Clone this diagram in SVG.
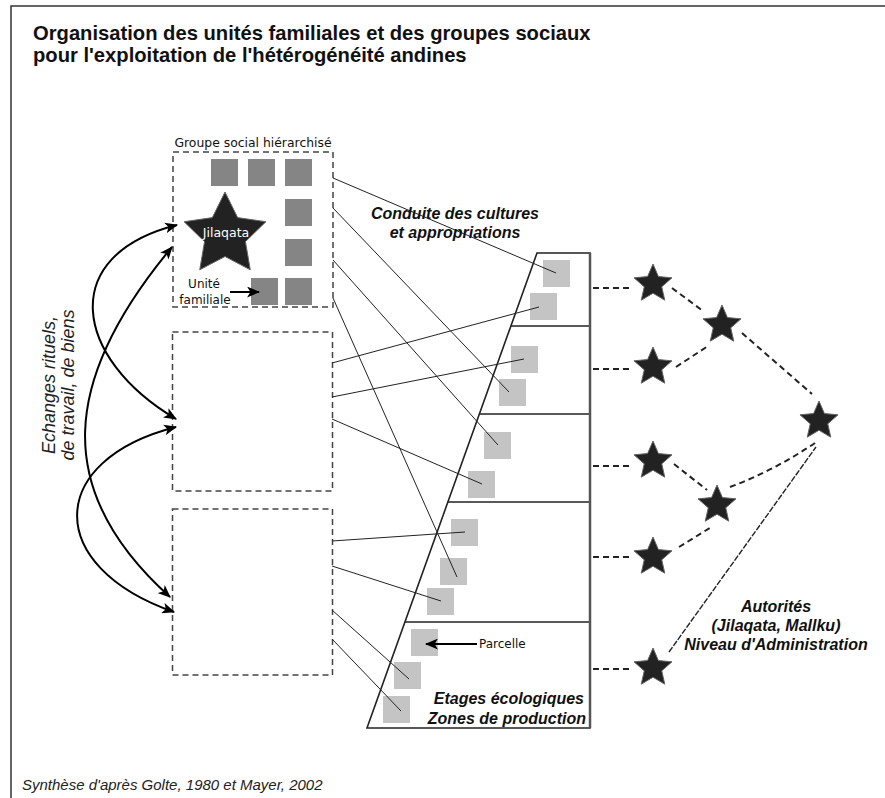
<svg xmlns="http://www.w3.org/2000/svg" width="885" height="798" viewBox="0 0 885 798">
<style>
.title{font-family:"Liberation Sans",Arial,sans-serif;font-weight:bold;font-size:20.2px;fill:#111}
.bi{font-family:"Liberation Sans",Arial,sans-serif;font-weight:bold;font-style:italic;font-size:16px;fill:#111}
.it{font-family:"Liberation Sans",Arial,sans-serif;font-style:italic;fill:#222}
.hand{font-family:"DejaVu Sans",sans-serif;font-size:12px;fill:#111}
.box{fill:none;stroke:#444;stroke-width:1.5;stroke-dasharray:6 4}
.dsq{fill:#858585}
.lsq{fill:#c4c4c4}
.link{stroke:#222;stroke-width:1;fill:none}
.arc{stroke:#000;stroke-width:2;fill:none;marker-start:url(#arr);marker-end:url(#arr)}
.dash{stroke:#222;stroke-width:2;fill:none;stroke-dasharray:6 4}
.star{fill:#222;stroke:#666;stroke-width:1}
.edge{stroke:#222;stroke-width:1.6;fill:none}
</style>
<defs>
<marker id="arr" viewBox="0 0 12 10" refX="11" refY="5" markerWidth="13" markerHeight="11" markerUnits="userSpaceOnUse" orient="auto-start-reverse">
<path d="M0,0 L12,5 L0,10 L3,5 Z" fill="#000"/>
</marker>
<path id="sstar" d="M0,-20 L5.41,-7.44 L19.02,-6.18 L8.75,2.84 L11.76,16.18 L0,9.2 L-11.76,16.18 L-8.75,2.84 L-19.02,-6.18 L-5.41,-7.44 Z"/>
</defs>
<rect width="885" height="798" fill="#fff"/>
<path d="M11,798 V6 H885" fill="none" stroke="#333" stroke-width="1.5"/>
<text class="title" x="33" y="40">Organisation des unités familiales et des groupes sociaux</text>
<text class="title" x="33" y="62">pour l'exploitation de l'hétérogénéité andines</text>

<g id="etages">
<polygon points="537,253 590,253 590,728 367,728" class="edge"/>
<line x1="510.9" y1="326" x2="590" y2="326" class="edge"/>
<line x1="479.4" y1="414" x2="590" y2="414" class="edge"/>
<line x1="447.9" y1="502" x2="590" y2="502" class="edge"/>
<line x1="404.9" y1="622" x2="590" y2="622" class="edge"/>
<line x1="590" y1="253" x2="590" y2="728" stroke="#555" stroke-width="2.5"/>
<rect class="lsq" x="543" y="260" width="27" height="27"/>
<rect class="lsq" x="530" y="293" width="27" height="27"/>
<rect class="lsq" x="511" y="346" width="27" height="27"/>
<rect class="lsq" x="499" y="379" width="27" height="27"/>
<rect class="lsq" x="484" y="432" width="27" height="27"/>
<rect class="lsq" x="468" y="471" width="27" height="27"/>
<rect class="lsq" x="451" y="519" width="27" height="27"/>
<rect class="lsq" x="440" y="558" width="27" height="27"/>
<rect class="lsq" x="427" y="588" width="27" height="27"/>
<rect class="lsq" x="411" y="629" width="27" height="27"/>
<rect class="lsq" x="394" y="662" width="27" height="27"/>
<rect class="lsq" x="383" y="696" width="27" height="27"/>
<text class="bi" x="584" y="704" text-anchor="end">Etages écologiques</text>
<text class="bi" x="586" y="724" text-anchor="end">Zones de production</text>
</g>

<g id="groupe1">
<rect class="box" x="173" y="152" width="160" height="155"/>
<text class="hand" x="253" y="147" text-anchor="middle" style="font-size:12.4px">Groupe social hiérarchisé</text>
<rect class="dsq" x="211" y="159" width="27" height="27"/>
<rect class="dsq" x="248" y="159" width="27" height="27"/>
<rect class="dsq" x="285" y="159" width="27" height="27"/>
<rect class="dsq" x="285" y="199" width="27" height="27"/>
<rect class="dsq" x="285" y="239" width="27" height="27"/>
<rect class="dsq" x="251" y="278" width="27" height="27"/>
<rect class="dsq" x="285" y="278" width="27" height="27"/>
<path class="star" transform="translate(225,235)" d="M0,-43 L12.64,-17.39 L40.9,-13.29 L20.45,6.64 L25.27,34.79 L0,21.5 L-25.27,34.79 L-20.45,6.64 L-40.9,-13.29 L-12.64,-17.39 Z"/>
<text class="hand" x="226" y="237" text-anchor="middle" style="fill:#fff;font-size:12.5px">Jilaqata</text>
<text class="hand" x="204" y="288" text-anchor="middle">Unité</text>
<text class="hand" x="205" y="304" text-anchor="middle">familiale</text>
<line x1="230" y1="292" x2="259" y2="292" stroke="#000" stroke-width="2" marker-end="url(#arr)"/>
</g>

<g id="groupe2">
<rect class="box" x="172.5" y="332" width="160" height="159"/>
</g>

<g id="groupe3">
<rect class="box" x="172.5" y="509" width="160" height="166"/>
</g>

<g id="autorites">
<use href="#sstar" class="star" x="653" y="284"/>
<use href="#sstar" class="star" x="653" y="367"/>
<use href="#sstar" class="star" x="653" y="461"/>
<use href="#sstar" class="star" x="653" y="557"/>
<use href="#sstar" class="star" x="653" y="668"/>
<use href="#sstar" class="star" x="722" y="325"/>
<use href="#sstar" class="star" x="717" y="505"/>
<use href="#sstar" class="star" x="819" y="421"/>
<text class="bi" x="776" y="612" text-anchor="middle">Autorités</text>
<text class="bi" x="776" y="631" text-anchor="middle">(Jilaqata, Mallku)</text>
<text class="bi" x="776" y="650" text-anchor="middle">Niveau d'Administration</text>
</g>

<g id="connecteurs">
<line class="link" x1="333" y1="178" x2="556" y2="273"/>
<line class="link" x1="333" y1="208" x2="509" y2="392"/>
<line class="link" x1="333" y1="260" x2="498" y2="445"/>
<line class="link" x1="333" y1="298" x2="457" y2="577"/>
<line class="link" x1="332" y1="363" x2="539" y2="307"/>
<line class="link" x1="332" y1="397" x2="524" y2="359"/>
<line class="link" x1="332" y1="419" x2="482" y2="484"/>
<line class="link" x1="332" y1="541" x2="465" y2="532"/>
<line class="link" x1="332" y1="566" x2="441" y2="601"/>
<line class="link" x1="332" y1="610" x2="409" y2="679"/>
<line class="link" x1="332" y1="639" x2="401" y2="711"/>
<path class="arc" d="M177,225 C57,255 73,358 176,419"/>
<path class="arc" d="M172,247 C62,379 51,490 170,597"/>
<path class="arc" d="M176,427 C46,460 43,566 174,612"/>
<line x1="477" y1="644" x2="426" y2="644" stroke="#000" stroke-width="2" marker-end="url(#arr)"/>
<line class="dash" x1="593" y1="288" x2="631" y2="288"/>
<line class="dash" x1="593" y1="369" x2="631" y2="369"/>
<line class="dash" x1="593" y1="466" x2="631" y2="466"/>
<line class="dash" x1="593" y1="557" x2="631" y2="557"/>
<line class="dash" x1="593" y1="669" x2="631" y2="669"/>
<line class="dash" x1="672" y1="288" x2="703" y2="311"/>
<line class="dash" x1="676" y1="367" x2="708" y2="346"/>
<line class="dash" x1="742" y1="333" x2="812" y2="394"/>
<line class="dash" x1="674" y1="464" x2="707" y2="490"/>
<line class="dash" x1="679" y1="547" x2="713" y2="526"/>
<path class="dash" d="M730,487 Q775,470 815,443"/>
<line x1="669" y1="652" x2="816" y2="447" stroke="#222" stroke-width="1.4" stroke-dasharray="6 1.5"/>
</g>

<text class="hand" x="479" y="648">Parcelle</text>
<text class="bi" x="455" y="219" text-anchor="middle">Conduite des cultures</text>
<text class="bi" x="455" y="238" text-anchor="middle">et appropriations</text>
<text class="it" style="font-size:18px" transform="translate(55,385) rotate(-90)" text-anchor="middle">Echanges rituels,</text>
<text class="it" style="font-size:18px" transform="translate(74,385) rotate(-90)" text-anchor="middle">de travail, de biens</text>
<text class="it" style="font-size:15px" x="22" y="790">Synthèse d'après Golte, 1980 et Mayer, 2002</text>
</svg>
